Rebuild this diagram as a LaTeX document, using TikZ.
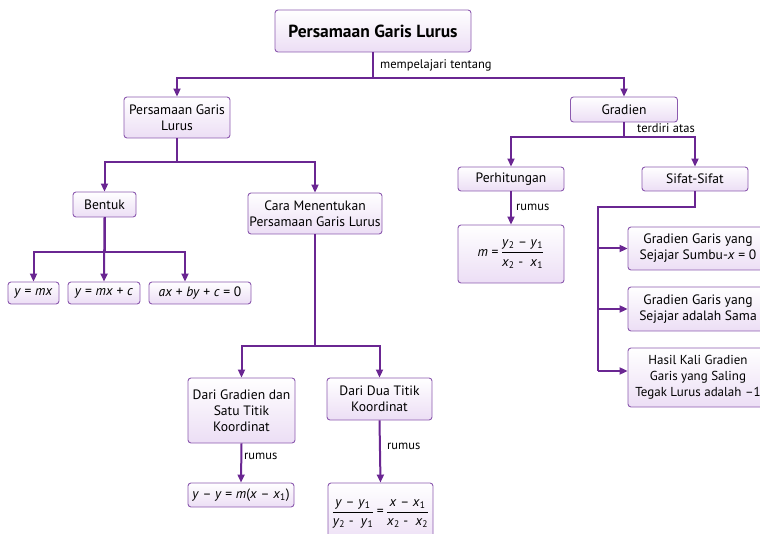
\documentclass[tikz,border=0pt]{standalone}
\usepackage{fontspec}
\setmainfont{PT Sans}
\usetikzlibrary{arrows.meta}
\definecolor{l1}{RGB}{106,38,146}
\definecolor{l2}{RGB}{140,90,175}
\definecolor{l3}{RGB}{236,222,245}
\newcommand{\vi}[1]{\textit{#1}}
\newcommand{\sub}[1]{\textsubscript{#1}}

\begin{document}
\begin{tikzpicture}[
    x=1pt, y=-1pt,
    font=\fontsize{13.6}{16}\selectfont,
    box/.style 2 args={
        draw=l2, line width=0.9pt, rounded corners=3pt,
        top color=white, bottom color=l3,
        align=center, inner sep=0pt,
        minimum width=#1pt, minimum height=#2pt
    },
    link/.style={
        draw=l1, line width=2pt
    },
    arr/.style={
        link, -{Triangle[length=8pt,width=7pt]}
    },
    branch/.style={
        to path={(\tikztostart) -- ++(0,#1) -| (\tikztotarget)}
    },
    l/.style={
        anchor=west, inner sep=1pt, font=\fontsize{12.5}{14}\selectfont
    }
]
    \useasboundingbox (0,0) rectangle (760,534);

    \node[box={196}{42}, font=\bfseries\fontsize{17.5}{20}\selectfont] (title) at (373,31) {Persamaan Garis Lurus};
    \node[box={106}{41}] (pgl) at (177,117.5) {Persamaan Garis\\Lurus};
    \node[box={107}{25}] (grad) at (624,109.5) {Gradien};

    \node[box={63}{25}] (bentuk) at (104.5,204.5) {Bentuk};
    \node[box={134}{41}] (cara) at (315,213.5) {Cara Menentukan\\Persamaan Garis Lurus};
    \node[box={51}{22}] (f1) at (33.5,293) {\vi{y} = \vi{mx}};
    \node[box={72}{22}] (f2) at (104,293) {\vi{y} = \vi{mx} + \vi{c}};
    \node[box={102}{22}] (f3) at (200,293) {\vi{ax} + \vi{by} + \vi{c} = 0};
    \node[box={107}{65}] (dg) at (241.5,410.5) {Dari Gradien dan\\Satu Titik\\Koordinat};
    \node[box={105}{42}] (dd) at (379.5,399) {Dari Dua Titik\\Koordinat};
    \node[box={106}{24}] (r1) at (241,495) {\vi{y} – \vi{y} = \vi{m}(\vi{x} – \vi{x}\sub{1})};
    \node[box={105}{62}] (r2) at (380.5,514) {$\displaystyle\frac{\mbox{\vi{y} – \vi{y}\sub{1}}}{\mbox{\vi{y}\sub{2} -\ \ \vi{y}\sub{1}}}\mbox{\,=\,}\frac{\mbox{\vi{x} – \vi{x}\sub{1}}}{\mbox{\vi{x}\sub{2} -\ \ \vi{x}\sub{2}}}$};

    \node[box={106}{24}] (perh) at (511,179) {Perhitungan};
    \node[box={106}{24}] (sifat) at (695,179) {Sifat-Sifat};
    \node[box={106}{58}] (mbox) at (511,254) {$\displaystyle\mbox{\vi{m} =\,}\frac{\mbox{\vi{y}\sub{2} – \vi{y}\sub{1}}}{\mbox{\vi{x}\sub{2} -\ \ \vi{x}\sub{1}}}$};
    \node[box={140}{43}] (g1) at (698,248.5) {Gradien Garis yang\\Sejajar Sumbu-\vi{x} = 0};
    \node[box={140}{44}] (g2) at (698,309) {Gradien Garis yang\\Sejajar adalah Sama};
    \node[box={140}{59}, font=\fontsize{13}{16}\selectfont] (g3) at (698,377.5) {Hasil Kali Gradien\\Garis yang Saling\\Tegak Lurus adalah –1};

    \draw[arr] (title.south) to[branch=26] (pgl.north);
    \draw[arr] (title.south) to[branch=26] (grad.north);
    \draw[arr] (pgl.south) to[branch=24] (bentuk.north);
    \draw[arr] (pgl.south) to[branch=24] (cara.north);
    \draw[arr] (bentuk.south) to[branch=35] (f1.north);
    \draw[arr] (bentuk.south) -- (f2.north);
    \draw[arr] (bentuk.south) to[branch=35] ([xshift=-15pt]f3.north);
    \draw[arr] (cara.south) to[branch=112] (dg.north);
    \draw[arr] (cara.south) to[branch=112] (dd.north);
    \draw[arr] (dg.south) -- (r1.north);
    \draw[arr] (dd.south) -- (r2.north);
    \draw[arr] (grad.south) to[branch=15] (perh.north);
    \draw[arr] (grad.south) to[branch=15] (sifat.north);
    \draw[arr] (perh.south) -- (mbox.north);

    \coordinate (s1) at (598,207);
    \coordinate (g3in) at ([yshift=6.5pt]g3.west);
    \draw[link] (sifat.south) |- (s1) -- (s1 |- g3in);
    \draw[arr] (s1 |- g1.west) -- (g1.west);
    \draw[arr] (s1 |- g2.west) -- (g2.west);
    \draw[arr] (s1 |- g3in) -- (g3in);

    \node[l] (lab1) at (379,65) {mempelajari tentang};
    \node[l] (lab2) at (636,128) {terdiri atas};
    \node[l] (lab3) at (515,207) {rumus};
    \node[l] (lab4) at (243,456) {rumus};
    \node[l] (lab5) at (386,446) {rumus};

\end{tikzpicture}
\end{document}
